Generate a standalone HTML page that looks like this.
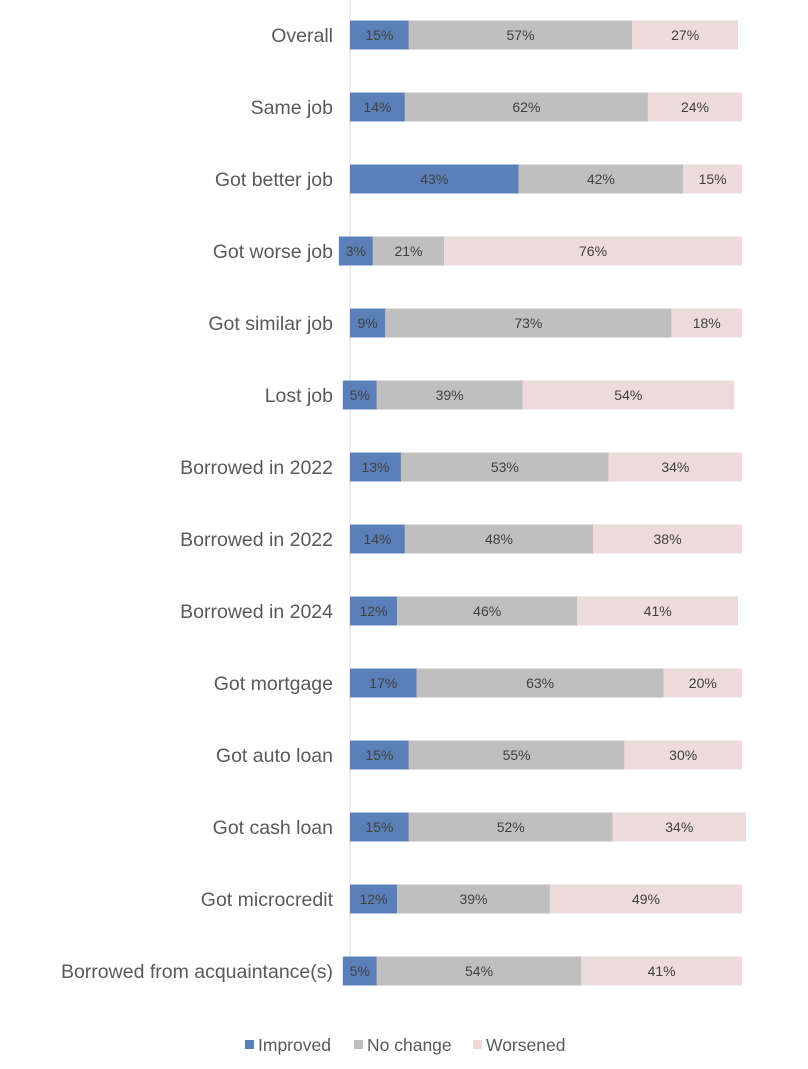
<!DOCTYPE html>
<html><head><meta charset="utf-8"><style>
body{margin:0;background:#fff;}
svg text{font-family:"Liberation Sans",sans-serif;}
</style></head><body>
<svg id="chart" width="808" height="1064" viewBox="0 0 808 1064"></svg>
<script>
const categories=["Overall","Same job","Got better job","Got worse job","Got similar job","Lost job","Borrowed in 2022","Borrowed in 2022","Borrowed in 2024","Got mortgage","Got auto loan","Got cash loan","Got microcredit","Borrowed from acquaintance(s)"];
const improved=[15,14,43,3,9,5,13,14,12,17,15,15,12,5];
const noChange=[57,62,42,21,73,39,53,48,46,63,55,52,39,54];
const worsened=[27,24,15,76,18,54,34,38,41,20,30,34,49,41];
const seriesNames=["Improved","No change","Worsened"];
const colors=["#5b7fb9","#bfbfbf","#eddada"];
const NS="http://www.w3.org/2000/svg";
const svg=document.getElementById('chart');
const x0=350, scale=3.92, top0=35, step=72, barH=29;
const xPos=v=>x0+v*scale;
const yPos=i=>top0+i*step;
function mk(tag,attrs){const e=document.createElementNS(NS,tag);for(const k in attrs)e.setAttribute(k,attrs[k]);svg.appendChild(e);return e;}
const ax=mk('line',{x1:x0,y1:0,x2:x0,y2:985,stroke:'#d9d9d9','stroke-width':1});


const series=[improved,noChange,worsened];
categories.forEach((c,i)=>{
  const cy=yPos(i);
  const lab=mk('text',{x:333,y:cy+7,'text-anchor':'end','font-size':19.5,fill:'#595959'});
  lab.textContent=c;
  
  
  let cum=0;
  series.forEach((s,k)=>{
    const v=s[i];
    let a=xPos(cum), b=xPos(cum+v);
    if(k===0 && b-a<34){const m=(a+b)/2;a=m-17;b=m+17;}
    if(k===1){const ia=xPos(0),ib=xPos(improved[i]);if(ib-ia<34){a=(ia+ib)/2+17;}}
    const r=mk('rect',{x:a,y:cy-barH/2,width:Math.max(0,b-a),height:barH,fill:colors[k]});
    
    
    const t=mk('text',{x:(a+b)/2,y:cy+5,'text-anchor':'middle','font-size':14,fill:'#404040'});
    t.textContent=v+'%';
    
    
    cum+=v;
  });
});
const lx=[245,354,473];
seriesNames.forEach((n,k)=>{
  const r=mk('rect',{x:lx[k],y:1040,width:9,height:9,fill:colors[k]});
  
  
  const t=mk('text',{x:lx[k]+13,y:1051,'font-size':17.5,fill:'#595959'});
  t.textContent=n;
  
  
});
</script>
</body></html>
